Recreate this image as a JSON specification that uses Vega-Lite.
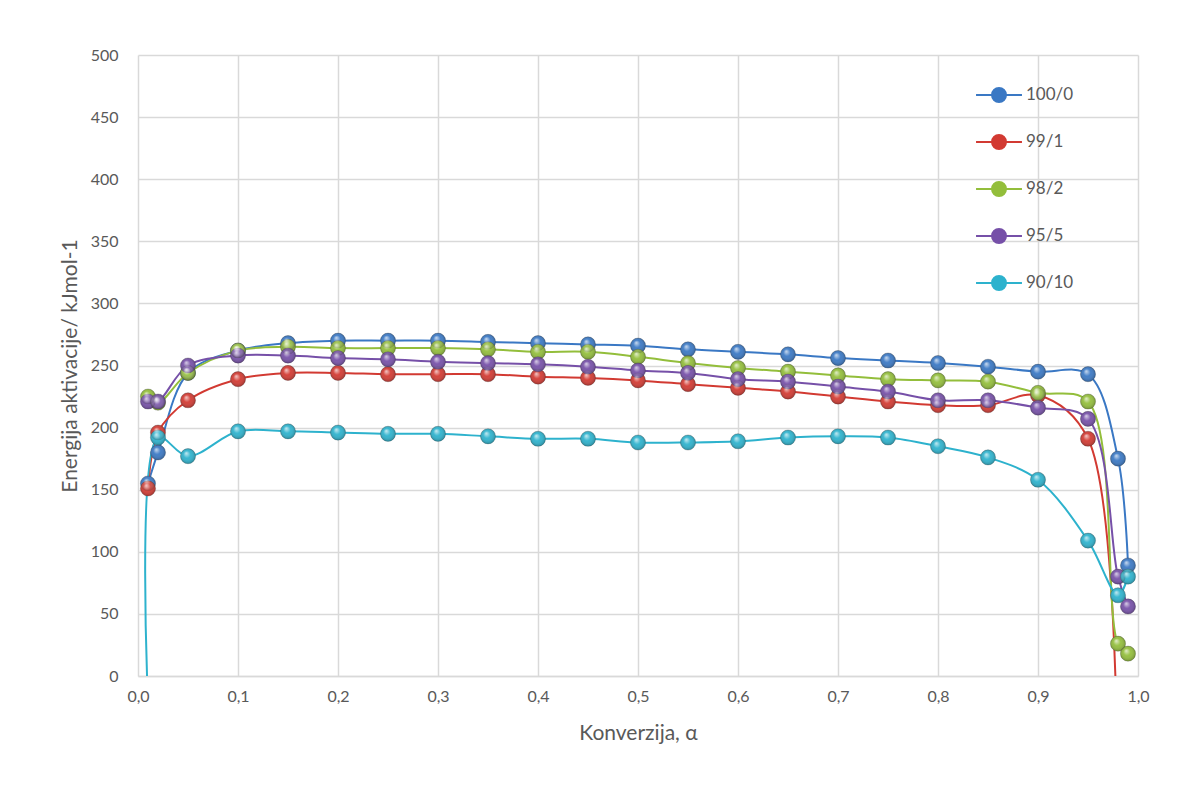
{
  "$schema": "https://vega.github.io/schema/vega-lite/v6.json",
  "width": 1000,
  "height": 621,
  "autosize": {"type": "none"},
  "padding": {"left": 138, "top": 55, "right": 46, "bottom": 111},
  "background": "white",
  "config": {
    "font": "Lato",
    "view": {"stroke": null},
    "axis": {"labelColor": "#595959", "titleColor": "#595959", "labelFontSize": 16, "titleFontSize": 21, "titleFontWeight": "normal", "gridColor": "#D9D9D9", "gridWidth": 1.5, "ticks": false, "labelFont": "Lato", "titleFont": "Lato", "labelFlush": false, "labelOverlap": false}
  },
  "data": {"values": [
    {"s":"100/0","o":1,"a":0.01,"e":155},{"s":"100/0","o":1,"a":0.02,"e":180},{"s":"100/0","o":1,"a":0.05,"e":244},{"s":"100/0","o":1,"a":0.1,"e":262},{"s":"100/0","o":1,"a":0.15,"e":268},{"s":"100/0","o":1,"a":0.2,"e":270},{"s":"100/0","o":1,"a":0.25,"e":270},{"s":"100/0","o":1,"a":0.3,"e":270},{"s":"100/0","o":1,"a":0.35,"e":269},{"s":"100/0","o":1,"a":0.4,"e":268},{"s":"100/0","o":1,"a":0.45,"e":267},{"s":"100/0","o":1,"a":0.5,"e":266},{"s":"100/0","o":1,"a":0.55,"e":263},{"s":"100/0","o":1,"a":0.6,"e":261},{"s":"100/0","o":1,"a":0.65,"e":259},{"s":"100/0","o":1,"a":0.7,"e":256},{"s":"100/0","o":1,"a":0.75,"e":254},{"s":"100/0","o":1,"a":0.8,"e":252},{"s":"100/0","o":1,"a":0.85,"e":249},{"s":"100/0","o":1,"a":0.9,"e":245},{"s":"100/0","o":1,"a":0.95,"e":243},{"s":"100/0","o":1,"a":0.98,"e":175},{"s":"100/0","o":1,"a":0.99,"e":89},
    {"s":"99/1","o":2,"a":0.01,"e":151},{"s":"99/1","o":2,"a":0.02,"e":196},{"s":"99/1","o":2,"a":0.05,"e":222},{"s":"99/1","o":2,"a":0.1,"e":239},{"s":"99/1","o":2,"a":0.15,"e":244},{"s":"99/1","o":2,"a":0.2,"e":244},{"s":"99/1","o":2,"a":0.25,"e":243},{"s":"99/1","o":2,"a":0.3,"e":243},{"s":"99/1","o":2,"a":0.35,"e":243},{"s":"99/1","o":2,"a":0.4,"e":241},{"s":"99/1","o":2,"a":0.45,"e":240},{"s":"99/1","o":2,"a":0.5,"e":238},{"s":"99/1","o":2,"a":0.55,"e":235},{"s":"99/1","o":2,"a":0.6,"e":232},{"s":"99/1","o":2,"a":0.65,"e":229},{"s":"99/1","o":2,"a":0.7,"e":225},{"s":"99/1","o":2,"a":0.75,"e":221},{"s":"99/1","o":2,"a":0.8,"e":218},{"s":"99/1","o":2,"a":0.85,"e":218},{"s":"99/1","o":2,"a":0.9,"e":226},{"s":"99/1","o":2,"a":0.95,"e":191},{"s":"99/1","o":2,"a":0.98,"e":-200},
    {"s":"98/2","o":3,"a":0.01,"e":225},{"s":"98/2","o":3,"a":0.02,"e":220},{"s":"98/2","o":3,"a":0.05,"e":244},{"s":"98/2","o":3,"a":0.1,"e":262},{"s":"98/2","o":3,"a":0.15,"e":265},{"s":"98/2","o":3,"a":0.2,"e":264},{"s":"98/2","o":3,"a":0.25,"e":264},{"s":"98/2","o":3,"a":0.3,"e":264},{"s":"98/2","o":3,"a":0.35,"e":263},{"s":"98/2","o":3,"a":0.4,"e":261},{"s":"98/2","o":3,"a":0.45,"e":261},{"s":"98/2","o":3,"a":0.5,"e":257},{"s":"98/2","o":3,"a":0.55,"e":252},{"s":"98/2","o":3,"a":0.6,"e":248},{"s":"98/2","o":3,"a":0.65,"e":245},{"s":"98/2","o":3,"a":0.7,"e":242},{"s":"98/2","o":3,"a":0.75,"e":239},{"s":"98/2","o":3,"a":0.8,"e":238},{"s":"98/2","o":3,"a":0.85,"e":237},{"s":"98/2","o":3,"a":0.9,"e":228},{"s":"98/2","o":3,"a":0.95,"e":221},{"s":"98/2","o":3,"a":0.98,"e":26},{"s":"98/2","o":3,"a":0.99,"e":18},
    {"s":"95/5","o":4,"a":0.01,"e":221},{"s":"95/5","o":4,"a":0.02,"e":221},{"s":"95/5","o":4,"a":0.05,"e":250},{"s":"95/5","o":4,"a":0.1,"e":258},{"s":"95/5","o":4,"a":0.15,"e":258},{"s":"95/5","o":4,"a":0.2,"e":256},{"s":"95/5","o":4,"a":0.25,"e":255},{"s":"95/5","o":4,"a":0.3,"e":253},{"s":"95/5","o":4,"a":0.35,"e":252},{"s":"95/5","o":4,"a":0.4,"e":251},{"s":"95/5","o":4,"a":0.45,"e":249},{"s":"95/5","o":4,"a":0.5,"e":246},{"s":"95/5","o":4,"a":0.55,"e":244},{"s":"95/5","o":4,"a":0.6,"e":239},{"s":"95/5","o":4,"a":0.65,"e":237},{"s":"95/5","o":4,"a":0.7,"e":233},{"s":"95/5","o":4,"a":0.75,"e":229},{"s":"95/5","o":4,"a":0.8,"e":222},{"s":"95/5","o":4,"a":0.85,"e":222},{"s":"95/5","o":4,"a":0.9,"e":216},{"s":"95/5","o":4,"a":0.95,"e":207},{"s":"95/5","o":4,"a":0.98,"e":80},{"s":"95/5","o":4,"a":0.99,"e":56},
    {"s":"90/10","o":5,"a":0.01,"e":-20},{"s":"90/10","o":5,"a":0.02,"e":192},{"s":"90/10","o":5,"a":0.05,"e":177},{"s":"90/10","o":5,"a":0.1,"e":197},{"s":"90/10","o":5,"a":0.15,"e":197},{"s":"90/10","o":5,"a":0.2,"e":196},{"s":"90/10","o":5,"a":0.25,"e":195},{"s":"90/10","o":5,"a":0.3,"e":195},{"s":"90/10","o":5,"a":0.35,"e":193},{"s":"90/10","o":5,"a":0.4,"e":191},{"s":"90/10","o":5,"a":0.45,"e":191},{"s":"90/10","o":5,"a":0.5,"e":188},{"s":"90/10","o":5,"a":0.55,"e":188},{"s":"90/10","o":5,"a":0.6,"e":189},{"s":"90/10","o":5,"a":0.65,"e":192},{"s":"90/10","o":5,"a":0.7,"e":193},{"s":"90/10","o":5,"a":0.75,"e":192},{"s":"90/10","o":5,"a":0.8,"e":185},{"s":"90/10","o":5,"a":0.85,"e":176},{"s":"90/10","o":5,"a":0.9,"e":158},{"s":"90/10","o":5,"a":0.95,"e":109},{"s":"90/10","o":5,"a":0.98,"e":65},{"s":"90/10","o":5,"a":0.99,"e":80}
  ]},
  "encoding": {
    "x": {"field": "a", "type": "quantitative", "scale": {"domain": [0, 1], "nice": false, "zero": false},
      "axis": {"title": "Konverzija, α", "values": [0,0.1,0.2,0.3,0.4,0.5,0.6,0.7,0.8,0.9,1], "labelExpr": "replace(format(datum.value, '.1f'), '.', ',')", "labelPadding": 12, "titlePadding": 18, "domainColor": "#D9D9D9", "domainWidth": 1.5}},
    "y": {"field": "e", "type": "quantitative", "scale": {"domain": [0, 500], "nice": false},
      "axis": {"title": "Energija aktivacije/ kJmol-1", "values": [0,50,100,150,200,250,300,350,400,450,500], "labelPadding": 20, "titlePadding": 10, "domain": false}},
    "color": {"field": "s", "type": "nominal", "sort": ["100/0","99/1","98/2","95/5","90/10"],
      "scale": {"domain": ["100/0","99/1","98/2","95/5","90/10"], "range": ["#3A78C4","#D23A32","#93BE3B","#7650A8","#2DB2CD"]},
      "legend": {"orient": "none", "legendX": 846, "legendY": 25, "title": null, "symbolType": "M -1.64 0 L 1.64 0 M 0.5 0 A 0.5 0.5 0 1 1 -0.5 0 A 0.5 0.5 0 1 1 0.5 0 Z", "symbolSize": 784, "symbolStrokeWidth": 2, "symbolOpacity": 1, "labelFontSize": 17, "labelColor": "#595959", "labelOffset": 12, "rowPadding": 21, "labelFont": "Lato"}}
  },
  "layer": [
    {"mark": {"type": "line", "interpolate": "catmull-rom", "strokeWidth": 2, "clip": true},
     "encoding": {"detail": {"field": "s"}, "order": {"field": "a", "type": "quantitative"}}},
    {"mark": {"type": "point", "filled": true, "opacity": 1, "size": 230, "clip": true, "stroke": "#333333", "strokeWidth": 0.5, "strokeOpacity": 0.5},
     "encoding": {"order": {"field": "o", "type": "quantitative"}}},
    {"mark": {"type": "point", "filled": true, "opacity": 1, "size": 230, "clip": true,
       "fill": {"gradient": "radial", "x1": 0.38, "y1": 0.3, "r1": 0, "x2": 0.5, "y2": 0.5, "r2": 0.55,
         "stops": [{"offset": 0, "color": "rgba(255,255,255,0.75)"}, {"offset": 0.45, "color": "rgba(255,255,255,0.05)"}, {"offset": 1, "color": "rgba(0,0,0,0.3)"}]}},
     "encoding": {"color": {"value": null}, "order": {"field": "o", "type": "quantitative"}}}
  ]
}
